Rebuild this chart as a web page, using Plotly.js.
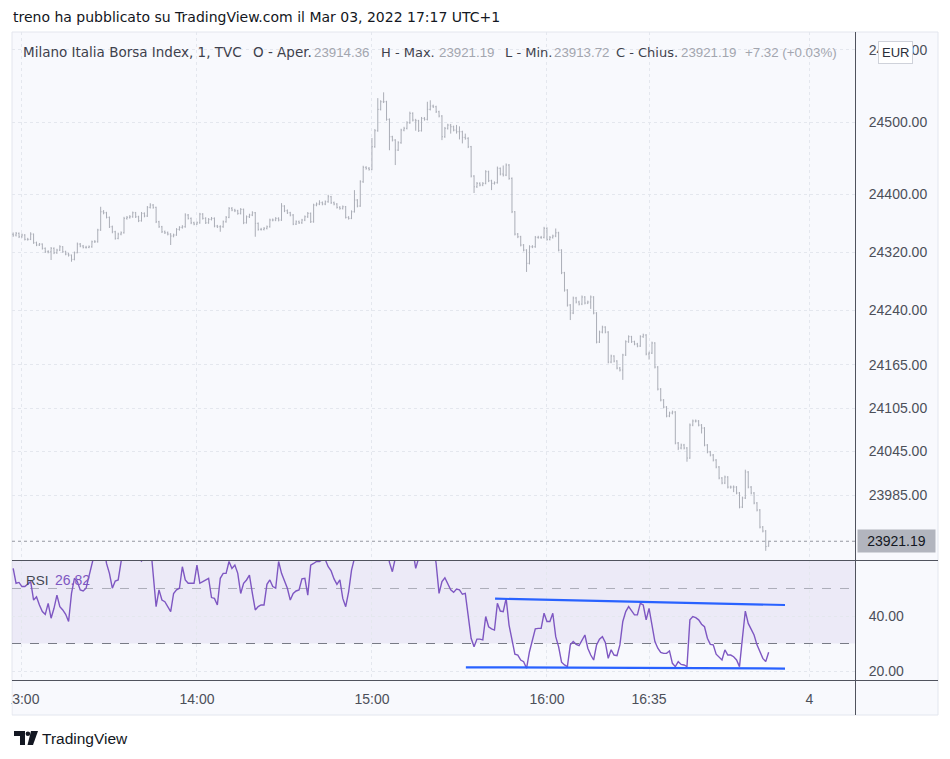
<!DOCTYPE html>
<html>
<head>
<meta charset="utf-8">
<script src="https://cdn.plot.ly/plotly-3.0.1.min.js"></script>
<style>
html,body{margin:0;padding:0;background:#ffffff;}
#chart{width:950px;height:759px;}
</style>
</head>
<body>
<div id="chart"></div>
<script>
// ---------------- DATA ----------------
const sessionDate = '2022-03-03';
const firstBarMinute = 12 * 60 + 57;   // first 1-minute bar at 12:57

const openP = [
24345.0,24344.0,24346.3,24341.6,24344.0,24338.0,24338.0,24345.3,24333.3,24330.2,
24331.5,24325.6,24320.9,24320.9,24325.6,24319.5,24323.2,24327.8,24320.9,24317.7,
24316.3,24310.4,24319.5,24331.5,24328.8,24327.0,24327.0,24327.8,24334.7,24334.7,
24350.9,24376.1,24374.7,24368.4,24355.4,24348.5,24339.4,24345.3,24347.1,24367.0,
24368.4,24369.2,24374.7,24369.2,24363.7,24373.9,24370.2,24382.2,24385.4,24382.2,
24362.3,24355.4,24348.5,24347.1,24345.3,24342.6,24344.0,24351.8,24354.6,24355.4,
24371.6,24367.0,24360.9,24359.1,24360.9,24372.9,24367.0,24360.9,24365.6,24367.0,
24356.4,24355.4,24355.4,24362.3,24368.4,24380.8,24378.5,24377.5,24373.9,24379.4,
24360.9,24369.2,24371.6,24374.7,24360.1,24351.8,24351.8,24353.2,24355.4,24364.7,
24364.7,24367.0,24364.7,24384.0,24377.5,24374.7,24371.6,24359.1,24362.3,24360.9,
24364.7,24369.2,24373.9,24362.3,24385.4,24386.8,24388.6,24386.8,24389.9,24396.8,
24388.6,24386.8,24382.2,24380.8,24383.0,24368.4,24367.0,24376.1,24392.3,24384.0,
24417.5,24437.4,24436.1,24434.7,24465.9,24488.0,24517.5,24528.0,24528.0,24503.7,
24479.7,24475.1,24461.3,24471.4,24488.9,24491.3,24499.0,24512.0,24502.7,24501.8,
24488.0,24505.1,24503.7,24517.5,24522.1,24521.1,24514.2,24508.3,24479.7,24491.3,
24495.8,24493.5,24488.9,24486.6,24486.6,24478.8,24477.5,24465.9,24425.4,24410.6,
24415.3,24413.0,24415.3,24431.4,24418.9,24415.3,24416.2,24436.1,24428.2,24426.8,
24440.6,24422.2,24376.1,24345.3,24341.6,24330.2,24323.2,24304.9,24327.8,24327.8,
24340.8,24340.8,24340.8,24353.2,24338.0,24340.8,24342.6,24347.1,24323.2,24291.9,
24268.0,24247.3,24236.3,24257.0,24251.5,24248.7,24258.4,24250.1,24251.5,24258.4,
24236.3,24196.2,24210.0,24216.9,24210.0,24168.6,24176.9,24170.0,24160.3,24157.6,
24178.3,24196.7,24203.6,24196.7,24193.5,24190.7,24203.6,24205.9,24179.7,24181.0,
24194.9,24161.7,24131.3,24116.2,24106.5,24094.1,24098.2,24099.6,24056.8,24049.9,
24054.0,24049.9,24036.1,24081.6,24087.2,24087.2,24081.6,24077.5,24054.0,24044.4,
24040.2,24033.3,24023.7,24008.5,24001.6,24009.9,23996.0,23996.0,23996.0,23987.8,
23968.4,23980.9,24016.8,23996.0,23987.8,23974.0,23964.3,23940.8,23935.3,23914.36
];

const highP = [
24347.5,24348.2,24347.5,24346.0,24345.2,24340.1,24347.8,24346.0,24334.9,24333.0,
24332.4,24326.8,24323.0,24327.4,24326.9,24325.0,24329.9,24328.6,24322.3,24319.4,
24317.0,24321.2,24333.6,24332.9,24330.3,24329.1,24329.6,24336.3,24337.0,24352.6,
24383.0,24378.4,24376.0,24369.5,24357.0,24349.8,24347.2,24349.0,24369.1,24370.3,
24371.5,24376.4,24375.9,24370.6,24375.8,24375.2,24384.0,24387.9,24386.7,24383.1,
24363.6,24356.6,24350.2,24348.8,24346.5,24345.9,24353.5,24356.2,24357.6,24374.0,
24373.0,24368.2,24362.4,24362.8,24374.6,24374.2,24368.5,24367.4,24368.9,24368.3,
24358.0,24357.5,24364.0,24370.2,24382.5,24382.6,24380.2,24378.8,24381.2,24380.5,
24371.0,24373.4,24376.8,24375.8,24361.3,24353.9,24355.0,24357.1,24366.6,24366.8,
24368.7,24368.4,24388.0,24385.2,24379.3,24376.0,24372.9,24364.2,24364.0,24366.3,
24371.0,24375.7,24375.0,24387.2,24388.9,24392.0,24390.3,24391.7,24399.5,24398.0,
24390.2,24388.0,24383.9,24384.8,24384.1,24370.0,24378.0,24406.0,24393.5,24419.6,
24439.6,24439.0,24437.8,24478.0,24490.3,24533.0,24530.1,24541.0,24529.3,24505.0,
24481.0,24476.3,24473.5,24490.7,24493.4,24501.1,24514.3,24513.4,24504.4,24503.0,
24507.0,24506.8,24528.0,24530.0,24524.0,24522.5,24515.6,24509.5,24493.2,24497.6,
24497.4,24495.0,24496.0,24494.0,24488.0,24484.0,24479.0,24467.0,24426.6,24417.2,
24416.8,24417.0,24433.5,24432.8,24420.3,24418.0,24438.5,24437.2,24440.0,24442.8,
24442.0,24423.5,24377.0,24346.8,24342.9,24331.5,24324.4,24329.9,24330.0,24342.7,
24342.9,24342.8,24355.3,24354.6,24342.7,24344.5,24353.0,24348.5,24324.3,24293.1,
24269.2,24248.6,24259.0,24258.6,24253.2,24260.5,24259.6,24253.4,24260.5,24259.5,
24237.5,24212.0,24218.8,24218.0,24211.2,24178.8,24178.0,24171.2,24161.8,24180.0,
24198.6,24205.5,24204.8,24198.1,24195.1,24205.6,24207.8,24207.1,24183.0,24196.8,
24196.0,24163.0,24132.6,24117.4,24107.8,24100.1,24101.5,24100.8,24058.2,24056.0,
24055.6,24051.2,24083.8,24089.2,24089.3,24088.5,24083.0,24078.8,24055.3,24045.9,
24041.6,24034.6,24025.0,24009.8,24011.8,24011.0,23998.0,23998.2,23997.3,23989.2,
23982.8,24020.0,24018.0,23997.4,23989.1,23975.3,23965.6,23942.2,23936.6,23921.19
];

const lowP = [
24341.5,24342.0,24339.8,24340.2,24336.5,24336.2,24337.0,24331.8,24328.6,24328.9,
24323.9,24319.2,24318.7,24309.5,24317.6,24318.0,24321.8,24319.5,24316.0,24314.2,
24307.1,24309.0,24318.8,24327.1,24325.5,24325.2,24325.8,24326.4,24333.1,24333.5,
24349.8,24372.6,24366.9,24353.7,24346.4,24337.6,24338.1,24343.6,24346.0,24365.2,
24366.6,24367.8,24367.5,24361.8,24362.5,24368.4,24369.0,24380.6,24380.3,24360.5,
24353.9,24346.7,24345.4,24343.5,24330.2,24340.8,24342.9,24350.0,24352.8,24354.1,
24365.4,24359.0,24357.5,24357.8,24359.6,24365.3,24359.2,24359.5,24364.1,24354.6,
24353.7,24348.5,24354.0,24361.0,24367.2,24376.9,24375.6,24372.0,24372.4,24359.0,
24359.8,24367.5,24370.1,24341.6,24350.0,24350.1,24350.3,24351.7,24354.2,24362.9,
24363.1,24362.8,24363.5,24375.6,24373.0,24369.8,24357.6,24357.8,24359.2,24359.4,
24363.2,24367.6,24360.6,24361.0,24383.7,24385.2,24385.0,24385.2,24388.6,24386.9,
24385.0,24380.5,24378.9,24379.2,24366.8,24365.3,24365.9,24375.0,24382.2,24382.9,
24416.0,24434.2,24432.9,24433.5,24464.5,24486.6,24516.0,24526.2,24501.8,24461.0,
24473.2,24440.6,24460.0,24470.0,24487.2,24489.8,24497.5,24500.8,24488.0,24486.3,
24486.9,24501.9,24502.2,24516.0,24519.3,24512.5,24506.4,24475.0,24478.2,24489.6,
24484.0,24487.1,24484.0,24476.0,24470.5,24475.6,24464.0,24423.5,24402.0,24409.0,
24411.2,24411.4,24414.0,24417.0,24406.0,24413.6,24415.0,24426.3,24424.8,24425.3,
24420.3,24374.2,24343.4,24339.7,24328.3,24321.4,24293.0,24303.4,24325.9,24326.4,
24338.9,24338.6,24339.3,24336.2,24336.5,24339.0,24341.0,24321.4,24290.0,24265.8,
24245.2,24226.6,24234.8,24249.6,24246.8,24247.2,24248.2,24248.6,24242.0,24234.5,
24194.4,24194.9,24208.2,24208.3,24166.8,24167.0,24168.1,24158.5,24155.6,24144.0,
24177.0,24195.1,24195.0,24191.8,24189.0,24189.5,24202.0,24177.9,24172.0,24179.7,
24159.8,24129.4,24114.3,24104.6,24092.3,24092.5,24096.4,24055.0,24047.0,24048.1,
24048.0,24031.0,24035.0,24080.0,24085.2,24079.8,24070.0,24052.3,24042.6,24038.4,
24031.4,24021.9,24006.7,23999.8,24000.1,23994.1,23993.8,23989.0,23986.0,23966.6,
23967.0,23979.5,23994.2,23985.9,23972.2,23962.4,23938.9,23933.4,23908.0,23913.72
];

const closeP = [
24344.0,24346.3,24341.6,24344.0,24338.0,24338.0,24345.3,24333.3,24330.2,24331.5,
24325.6,24320.9,24320.9,24325.6,24319.5,24323.2,24327.8,24320.9,24317.7,24316.3,
24310.4,24319.5,24331.5,24328.8,24327.0,24327.0,24327.8,24334.7,24334.7,24350.9,
24376.1,24374.7,24368.4,24355.4,24348.5,24339.4,24345.3,24347.1,24367.0,24368.4,
24369.2,24374.7,24369.2,24363.7,24373.9,24370.2,24382.2,24385.4,24382.2,24362.3,
24355.4,24348.5,24347.1,24345.3,24342.6,24344.0,24351.8,24354.6,24355.4,24371.6,
24367.0,24360.9,24359.1,24360.9,24372.9,24367.0,24360.9,24365.6,24367.0,24356.4,
24355.4,24355.4,24362.3,24368.4,24380.8,24378.5,24377.5,24373.9,24379.4,24360.9,
24369.2,24371.6,24374.7,24360.1,24351.8,24351.8,24353.2,24355.4,24364.7,24364.7,
24367.0,24364.7,24384.0,24377.5,24374.7,24371.6,24359.1,24362.3,24360.9,24364.7,
24369.2,24373.9,24362.3,24385.4,24386.8,24388.6,24386.8,24389.9,24396.8,24388.6,
24386.8,24382.2,24380.8,24383.0,24368.4,24367.0,24376.1,24392.3,24384.0,24417.5,
24437.4,24436.1,24434.7,24465.9,24488.0,24517.5,24528.0,24528.0,24503.7,24479.7,
24475.1,24461.3,24471.4,24488.9,24491.3,24499.0,24512.0,24502.7,24501.8,24488.0,
24505.1,24503.7,24517.5,24522.1,24521.1,24514.2,24508.3,24479.7,24491.3,24495.8,
24493.5,24488.9,24486.6,24486.6,24478.8,24477.5,24465.9,24425.4,24410.6,24415.3,
24413.0,24415.3,24431.4,24418.9,24415.3,24416.2,24436.1,24428.2,24426.8,24440.6,
24422.2,24376.1,24345.3,24341.6,24330.2,24323.2,24304.9,24327.8,24327.8,24340.8,
24340.8,24340.8,24353.2,24338.0,24340.8,24342.6,24347.1,24323.2,24291.9,24268.0,
24247.3,24236.3,24257.0,24251.5,24248.7,24258.4,24250.1,24251.5,24258.4,24236.3,
24196.2,24210.0,24216.9,24210.0,24168.6,24176.9,24170.0,24160.3,24157.6,24178.3,
24196.7,24203.6,24196.7,24193.5,24190.7,24203.6,24205.9,24179.7,24181.0,24194.9,
24161.7,24131.3,24116.2,24106.5,24094.1,24098.2,24099.6,24056.8,24049.9,24054.0,
24049.9,24036.1,24081.6,24087.2,24087.2,24081.6,24077.5,24054.0,24044.4,24040.2,
24033.3,24023.7,24008.5,24001.6,24009.9,23996.0,23996.0,23996.0,23987.8,23968.4,
23980.9,24016.8,23996.0,23987.8,23974.0,23964.3,23940.8,23935.3,23913.87,23921.19
];

const rsiValues = [
57.3,51.9,52.2,50.7,50.7,51.5,52.5,45.8,47.0,44.0,
41.6,40.6,44.6,39.2,42.8,47.6,43.4,42.2,40.6,38.0,
48.2,53.7,52.5,49.5,49.1,50.1,54.9,59.1,64.0,68.0,
72.0,66.0,59.1,55.5,50.1,52.7,53.1,59.8,64.0,63.0,
64.0,66.0,63.0,61.0,60.0,62.0,66.0,67.0,56.4,43.4,
49.5,45.8,45.2,43.4,41.6,48.2,49.5,50.1,57.9,53.1,
51.9,51.9,51.9,58.5,51.9,52.5,53.1,53.7,46.7,46.4,
44.0,53.7,55.5,55.5,59.8,57.3,58.5,55.5,48.2,51.9,
53.1,54.9,48.2,42.2,43.4,44.0,44.0,51.5,53.1,50.7,
50.1,59.8,55.5,53.1,50.1,45.8,48.2,49.1,49.5,53.5,
53.7,47.6,58.5,59.1,59.8,59.8,60.5,60.5,57.9,56.4,
53.5,51.5,53.1,46.4,43.4,48.8,56.7,61.0,62.0,68.0,
70.0,69.0,68.0,72.0,75.0,78.0,78.0,76.0,66.0,59.5,
56.1,61.0,62.0,66.0,67.0,68.0,70.0,64.0,57.3,61.0,
64.0,64.0,68.0,69.0,66.0,59.1,48.2,52.5,53.9,51.9,
49.5,48.6,49.8,49.5,47.9,48.2,39.2,31.9,28.8,31.6,
31.6,31.3,39.8,36.1,35.3,34.9,44.6,41.8,41.6,46.4,
36.7,30.7,26.1,25.8,24.0,23.4,21.0,27.0,30.7,35.3,
35.5,35.5,41.0,38.0,38.0,41.0,32.5,28.8,23.2,22.2,
21.6,29.5,30.7,29.7,29.2,31.3,33.1,28.3,25.8,24.0,
29.5,31.6,32.5,30.4,24.6,27.7,25.8,25.6,29.5,38.0,
41.6,43.4,41.8,40.4,40.4,44.6,44.0,38.6,42.8,36.1,
30.7,28.3,26.8,26.4,26.4,27.3,22.8,21.6,23.4,22.4,
22.2,21.6,38.6,39.8,39.4,38.6,37.0,36.1,31.9,29.7,
29.5,26.1,25.2,24.0,27.7,25.8,25.8,25.2,24.0,21.6,
31.9,41.8,37.3,35.3,33.1,29.5,27.0,24.6,23.4,26.82
];

// drawn trendlines on the RSI pane (time, value)
const upperTrendTime = ['2022-03-03 15:42:12', '2022-03-03 17:21:36'];
const upperTrendRsi  = [46.3, 44.0];
const lowerTrendTime = ['2022-03-03 15:32:12', '2022-03-03 17:21:36'];
const lowerTrendRsi  = [21.35, 20.9];

// axis ticks
const priceTickVals = [24600, 24500, 24400, 24320, 24240, 24165, 24105, 24045, 23985];
const priceTickText = ['24600.00','24500.00','24400.00','24320.00','24240.00','24165.00','24105.00','24045.00','23985.00'];
const rsiTickVals = [40, 20];
const rsiTickText = ['40.00', '20.00'];
const timeTickVals = ['2022-03-03 13:00','2022-03-03 14:00','2022-03-03 15:00','2022-03-03 16:00','2022-03-03 16:35','2022-03-03 17:30'];
const timeTickText = ['13:00', '14:00', '15:00', '16:00', '16:35', '4'];

const rsiUpperBand = 70, rsiMidLine = 50, rsiLowerBand = 30;

// ---------------- BUILD ----------------
function pad2(n){ return (n < 10 ? '0' : '') + n; }
function stampFromMinute(m){
  const h = Math.floor(m / 60), mm = Math.floor(m % 60), ss = Math.round((m - Math.floor(m)) * 60);
  return sessionDate + ' ' + pad2(h) + ':' + pad2(mm) + ':' + pad2(ss);
}
const barTimes = closeP.map((_, i) => stampFromMinute(firstBarMinute + i));

const W = 950, H = 759;
const P = x => x / W;          // pixel -> paper x
const Q = y => 1 - y / H;      // pixel -> paper y

const xRange = [stampFromMinute(12*60 + 56.6), stampFromMinute(17*60 + 45.6)];
const priceRange = [23895.3, 24624.3];
const rsiRange = [16.73, 60.36];

const font = 'Liberation Sans, Arial, sans-serif';
const wideFont = 'DejaVu Sans, Verdana, sans-serif';
const axisFont = {family: font, size: 14, color: '#4c4f59'};
const gridCol = '#e4e7ee';
const barCol = '#abaeb7';
const lastIdx = closeP.length - 1;
const lastClose = closeP[lastIdx];
const change = lastClose - closeP[lastIdx - 1];
const changePct = change / closeP[lastIdx - 1] * 100;

const traces = [
  {
    type: 'ohlc', x: barTimes, open: openP, high: highP, low: lowP, close: closeP,
    xaxis: 'x', yaxis: 'y',
    increasing: {line: {color: barCol, width: 1}},
    decreasing: {line: {color: barCol, width: 1}},
    tickwidth: 0.3, hoverinfo: 'skip', showlegend: false
  },
  {
    type: 'scatter', mode: 'lines', x: barTimes, y: rsiValues, xaxis: 'x', yaxis: 'y2',
    line: {color: '#7e57c2', width: 1.4}, hoverinfo: 'skip', showlegend: false, cliponaxis: true
  },
  {
    type: 'scatter', mode: 'lines', x: upperTrendTime, y: upperTrendRsi, xaxis: 'x', yaxis: 'y2',
    line: {color: '#2962ff', width: 2.2}, hoverinfo: 'skip', showlegend: false
  },
  {
    type: 'scatter', mode: 'lines', x: lowerTrendTime, y: lowerTrendRsi, xaxis: 'x', yaxis: 'y2',
    line: {color: '#2962ff', width: 2.2}, hoverinfo: 'skip', showlegend: false
  }
];

function pathFrom(points){
  return points.map((p, i) => (i ? 'L' : 'M') + P(p[0]).toFixed(5) + ',' + Q(p[1]).toFixed(5)).join(' ') + ' Z';
}

const shapes = [
  // chart panel background
  {type:'rect', xref:'paper', yref:'paper', x0:P(12), x1:P(938), y0:Q(715), y1:Q(32),
   fillcolor:'#f8f9fd', line:{color:'#e3e6ee', width:1}, layer:'below'},
  // RSI background band (30-70)
  {type:'rect', xref:'paper', yref:'y2', x0:P(12), x1:P(855), y0:rsiLowerBand, y1:Math.min(rsiUpperBand, rsiRange[1]),
   fillcolor:'rgba(126,87,194,0.09)', line:{width:0}, layer:'below'},
  // RSI middle and lower levels
  {type:'line', xref:'paper', yref:'y2', x0:P(12), x1:P(855), y0:rsiMidLine, y1:rsiMidLine,
   line:{color:'rgba(120,123,134,0.55)', width:1, dash:'dash'}, layer:'below'},
  {type:'line', xref:'paper', yref:'y2', x0:P(12), x1:P(855), y0:rsiLowerBand, y1:rsiLowerBand,
   line:{color:'#787b86', width:1, dash:'dash'}, layer:'below'},
  // last price dotted line
  {type:'line', xref:'paper', yref:'y', x0:P(12), x1:P(855), y0:lastClose, y1:lastClose,
   line:{color:'#9598a1', width:1, dash:'dot'}, layer:'below'},
  // pane separators
  {type:'line', xref:'paper', yref:'paper', x0:P(12), x1:P(938), y0:Q(560.5), y1:Q(560.5), line:{color:'#50535e', width:1}},
  {type:'line', xref:'paper', yref:'paper', x0:P(12), x1:P(938), y0:Q(680.5), y1:Q(680.5), line:{color:'#50535e', width:1}},
  {type:'line', xref:'paper', yref:'paper', x0:P(855.5), x1:P(855.5), y0:Q(32), y1:Q(715), line:{color:'#50535e', width:1}},
  // mask left of panel (clips first time label)
  {type:'rect', xref:'paper', yref:'paper', x0:0, x1:P(11.5), y0:Q(716), y1:Q(681), fillcolor:'#ffffff', line:{width:0}, layer:'above'},
  // TradingView logo
  {type:'path', xref:'paper', yref:'paper', path:pathFrom([[14,731],[25,731],[25,745],[20,745],[20,736],[14,736]]),
   fillcolor:'#131722', line:{width:0}, layer:'above'},
  {type:'circle', xref:'paper', yref:'paper', x0:P(25.6), x1:P(30.2), y0:Q(736), y1:Q(731.4),
   fillcolor:'#131722', line:{width:0}, layer:'above'},
  {type:'path', xref:'paper', yref:'paper', path:pathFrom([[31,731],[38,731],[33,745],[27.5,745]]),
   fillcolor:'#131722', line:{width:0}, layer:'above'}
];

const dark = '#3e414c', grey = '#a3a6af';
function ann(text, x, y, opts){
  return Object.assign({xref:'paper', yref:'paper', x:P(x), y:Q(y), xanchor:'left', yanchor:'middle',
    text:text, showarrow:false, font:{family:wideFont, size:13, color:dark}}, opts || {});
}
const numFont = {family:font, size:13.3, color:grey};
const annotations = [
  ann('treno ha pubblicato su TradingView.com il Mar 03, 2022 17:17 UTC+1', 11, 17, {font:{family:wideFont, size:14, color:'#131722'}}),
  ann('Milano Italia Borsa Index, 1, TVC', 21, 52, {font:{family:wideFont, size:13.5, color:dark}}),
  ann('O - Aper.', 251, 52, {font:{family:wideFont, size:13.5, color:dark}}),
  ann(openP[lastIdx].toFixed(2), 312, 52, {font:numFont}),
  ann('H - Max.', 379, 52),
  ann(highP[lastIdx].toFixed(2), 437, 52, {font:numFont}),
  ann('L - Min.', 503, 52),
  ann(lowP[lastIdx].toFixed(2), 552, 52, {font:numFont}),
  ann('C - Chius.', 614, 52),
  ann(lastClose.toFixed(2), 679, 52, {font:numFont}),
  ann('+' + change.toFixed(2) + ' (+' + changePct.toFixed(2) + '%)', 743, 52, {font:numFont}),
  // currency badge
  {xref:'paper', yref:'paper', x:P(895.5), y:Q(53), xanchor:'center', yanchor:'middle', text:'EUR', showarrow:false,
   font:{family:font, size:13, color:'#2a2e39'}, bgcolor:'#ffffff', bordercolor:'#cfd2da', borderwidth:1, borderpad:3},
  // last price label
  {xref:'paper', yref:'y', x:P(857), y:lastClose, xanchor:'left', yanchor:'middle', text:lastClose.toFixed(2), showarrow:false,
   font:{family:font, size:14, color:'#131722'}, bgcolor:'#b2b5be', borderpad:3, width:71, align:'center'},
  // RSI legend
  ann('RSI', 24, 580, {font:{family:font, size:13.5, color:'#434651'}}),
  ann(rsiValues[lastIdx].toFixed(2), 53, 580, {font:{family:font, size:14, color:'#7e57c2'}}),
  // TradingView wordmark
  ann('TradingView', 40, 738, {font:{family:font, size:15.5, color:'#131722'}})
];

const layout = {
  width: W, height: H,
  margin: {l:0, r:0, t:0, b:0},
  paper_bgcolor: '#ffffff', plot_bgcolor: 'rgba(0,0,0,0)',
  showlegend: false, hovermode: false,
  xaxis: {
    domain: [P(12), P(855)], anchor: 'y2', type: 'date', range: xRange,
    tickmode: 'array', tickvals: timeTickVals, ticktext: timeTickText,
    ticks: 'outside', ticklen: 6, tickcolor: 'rgba(0,0,0,0)', tickfont: axisFont,
    showgrid: true, gridcolor: gridCol, griddash: 'dot', gridwidth: 1,
    showline: false, zeroline: false, rangeslider: {visible: false}, fixedrange: true
  },
  yaxis: {
    domain: [Q(560), Q(32)], anchor: 'x', side: 'right', range: priceRange,
    tickmode: 'array', tickvals: priceTickVals, ticktext: priceTickText,
    ticks: 'outside', ticklen: 10, tickcolor: 'rgba(0,0,0,0)', tickfont: axisFont,
    showgrid: true, gridcolor: gridCol, griddash: 'dot', gridwidth: 1,
    showline: false, zeroline: false, fixedrange: true
  },
  yaxis2: {
    domain: [Q(680), Q(560)], anchor: 'x', side: 'right', range: rsiRange,
    tickmode: 'array', tickvals: rsiTickVals, ticktext: rsiTickText,
    ticks: 'outside', ticklen: 10, tickcolor: 'rgba(0,0,0,0)', tickfont: axisFont,
    showgrid: true, gridcolor: gridCol, griddash: 'dot', gridwidth: 1,
    showline: false, zeroline: false, fixedrange: true
  },
  shapes: shapes,
  annotations: annotations
};

Plotly.newPlot('chart', traces, layout, {displayModeBar: false, staticPlot: true});
</script>
</body>
</html>
